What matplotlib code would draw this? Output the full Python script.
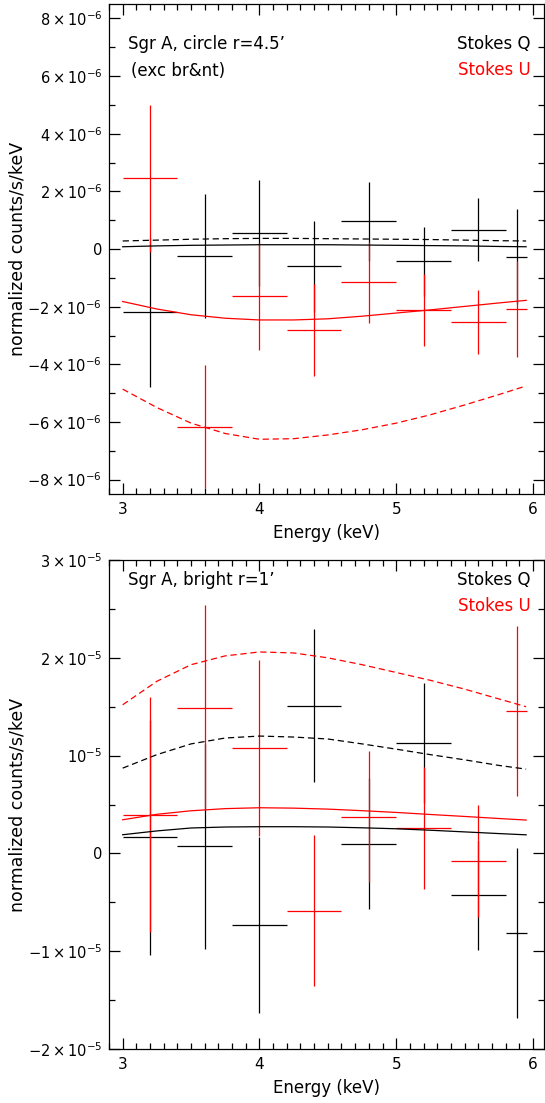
import matplotlib
matplotlib.use('Agg')
import matplotlib.pyplot as plt
import numpy as np
from matplotlib.ticker import MultipleLocator, FixedLocator

plt.rcParams['font.family'] = ['DejaVu Sans']
plt.rcParams['mathtext.default'] = 'regular'

# energy bins (keV)
bin_centers = [3.2, 3.6, 4.0, 4.4, 4.8, 5.2, 5.6, 5.88]
bin_halfwidths = [0.2, 0.2, 0.2, 0.2, 0.2, 0.2, 0.2, 0.08]
model_energy = [3.0, 3.25, 3.5, 3.75, 4.0, 4.25, 4.5, 4.75, 5.0, 5.25, 5.5, 5.75, 5.95]

# top panel: Sgr A circle r=4.5' (units of 1e-6)
top_q = [-2.19, -0.24, 0.56, -0.60, 0.96, -0.43, 0.67, -0.26]
top_q_err = [2.58, 2.16, 1.85, 1.58, 1.37, 1.21, 1.10, 1.65]
top_u = [2.45, -6.16, -1.64, -2.81, -1.16, -2.10, -2.53, -2.07]
top_u_err = [2.55, 2.14, 1.86, 1.59, 1.39, 1.25, 1.11, 1.66]
top_q_model = [0.08, 0.11, 0.13, 0.14, 0.15, 0.15, 0.15, 0.14, 0.13, 0.12, 0.11, 0.09, 0.08]
top_q_model2 = [0.28, 0.31, 0.34, 0.36, 0.37, 0.37, 0.36, 0.35, 0.34, 0.33, 0.31, 0.29, 0.28]
top_u_model = [-1.82, -2.08, -2.28, -2.40, -2.46, -2.46, -2.42, -2.33, -2.22, -2.11, -1.99, -1.87, -1.78]
top_u_model2 = [-4.86, -5.50, -6.04, -6.40, -6.60, -6.58, -6.45, -6.27, -6.04, -5.75, -5.41, -5.05, -4.75]

# bottom panel: Sgr A bright r=1' (units of 1e-5)
bot_q = [0.163, 0.072, -0.735, 1.51, 0.10, 1.13, -0.43, -0.817]
bot_q_err = [1.20, 1.05, 0.90, 0.78, 0.67, 0.61, 0.56, 0.87]
bot_u = [0.395, 1.49, 1.077, -0.585, 0.375, 0.26, -0.078, 1.46]
bot_u_err = [1.20, 1.05, 0.90, 0.775, 0.67, 0.62, 0.57, 0.87]
bot_q_model = [0.191, 0.23, 0.26, 0.27, 0.273, 0.273, 0.27, 0.262, 0.252, 0.237, 0.22, 0.203, 0.19]
bot_q_model2 = [0.872, 1.01, 1.12, 1.18, 1.20, 1.19, 1.17, 1.12, 1.066, 1.01, 0.957, 0.90, 0.862]
bot_u_model = [0.344, 0.40, 0.436, 0.458, 0.467, 0.463, 0.453, 0.437, 0.419, 0.398, 0.378, 0.357, 0.341]
bot_u_model2 = [1.52, 1.76, 1.93, 2.02, 2.06, 2.05, 2.00, 1.93, 1.85, 1.77, 1.68, 1.58, 1.50]

top_yticks = [-8, -6, -4, -2, 0, 2, 4, 6, 8]
top_ylabels = [r'$-8\times10^{-6}$', r'$-6\times10^{-6}$', r'$-4\times10^{-6}$', r'$-2\times10^{-6}$', '0',
               r'$2\times10^{-6}$', r'$4\times10^{-6}$', r'$6\times10^{-6}$', r'$8\times10^{-6}$']
bot_yticks = [-2, -1, 0, 1, 2, 3]
bot_ylabels = [r'$-2\times10^{-5}$', r'$-1\times10^{-5}$', '0', r'$10^{-5}$', r'$2\times10^{-5}$', r'$3\times10^{-5}$']

FS = 12
LW = 0.9


def draw_panel(ax, scale, q, qerr, u, uerr, qm, qm2, um, um2, ylim, yticks, ylabels, yminor, lines):
    s = scale
    ax.errorbar(bin_centers, np.array(q) * s, xerr=bin_halfwidths, yerr=np.array(qerr) * s,
                fmt='none', ecolor='black', elinewidth=LW, capsize=0)
    ax.errorbar(bin_centers, np.array(u) * s, xerr=bin_halfwidths, yerr=np.array(uerr) * s,
                fmt='none', ecolor='red', elinewidth=LW, capsize=0)
    ax.plot(model_energy, np.array(qm) * s, color='black', lw=LW)
    ax.plot(model_energy, np.array(qm2) * s, color='black', lw=LW, dashes=(5, 3))
    ax.plot(model_energy, np.array(um) * s, color='red', lw=LW)
    ax.plot(model_energy, np.array(um2) * s, color='red', lw=LW, dashes=(5, 3))

    ax.set_xlim(2.9, 6.08)
    ax.set_ylim(ylim[0] * s, ylim[1] * s)
    ax.xaxis.set_major_locator(FixedLocator([3, 4, 5, 6]))
    ax.xaxis.set_minor_locator(MultipleLocator(0.1))
    ax.yaxis.set_major_locator(FixedLocator([v * s for v in yticks]))
    ax.yaxis.set_minor_locator(MultipleLocator(yminor * s))
    ax.set_yticklabels(ylabels)
    ax.set_xticklabels(['3', '4', '5', '6'])
    ax.tick_params(which='both', direction='in', top=True, right=True, labelsize=FS - 1.5, width=LW)
    ax.tick_params(axis='x', pad=6, labelsize=FS - 1)
    ax.tick_params(axis='y', pad=5)
    ax.tick_params(which='major', length=8)
    ax.tick_params(which='minor', length=4)
    for sp in ax.spines.values():
        sp.set_linewidth(LW)
    ax.set_xlabel('Energy (keV)', fontsize=FS, labelpad=5)

    for (x, y, txt, col, ha) in lines:
        ax.text(x, y, txt, color=col, fontsize=FS, ha=ha, va='center', transform=ax.transAxes)


fig = plt.figure(figsize=(5.45, 11.03), dpi=100)
ax1 = fig.add_axes([0.2, 0.5521, 0.798, 0.4442])
ax2 = fig.add_axes([0.2, 0.04896, 0.798, 0.4433])

draw_panel(ax1, 1e-6, top_q, top_q_err, top_u, top_u_err, top_q_model, top_q_model2,
           top_u_model, top_u_model2, (-8.5, 8.5), top_yticks, top_ylabels, 1,
           [(0.044, 0.918, 'Sgr A, circle r=4.5\u2019', 'black', 'left'),
            (0.051, 0.863, '(exc br&nt)', 'black', 'left'),
            (0.970, 0.918, 'Stokes Q', 'black', 'right'),
            (0.970, 0.865, 'Stokes U', 'red', 'right')])

draw_panel(ax2, 1e-5, bot_q, bot_q_err, bot_u, bot_u_err, bot_q_model, bot_q_model2,
           bot_u_model, bot_u_model2, (-2, 3), bot_yticks, bot_ylabels, 0.5,
           [(0.044, 0.959, 'Sgr A, bright r=1\u2019', 'black', 'left'),
            (0.970, 0.959, 'Stokes Q', 'black', 'right'),
            (0.970, 0.906, 'Stokes U', 'red', 'right')])

fig.text(0.033, 0.7742, 'normalized counts/s/keV', rotation=90, ha='center', va='center', fontsize=FS + 0.5)
fig.text(0.033, 0.2706, 'normalized counts/s/keV', rotation=90, ha='center', va='center', fontsize=FS + 0.5)

fig.savefig('out.png', dpi=100)
